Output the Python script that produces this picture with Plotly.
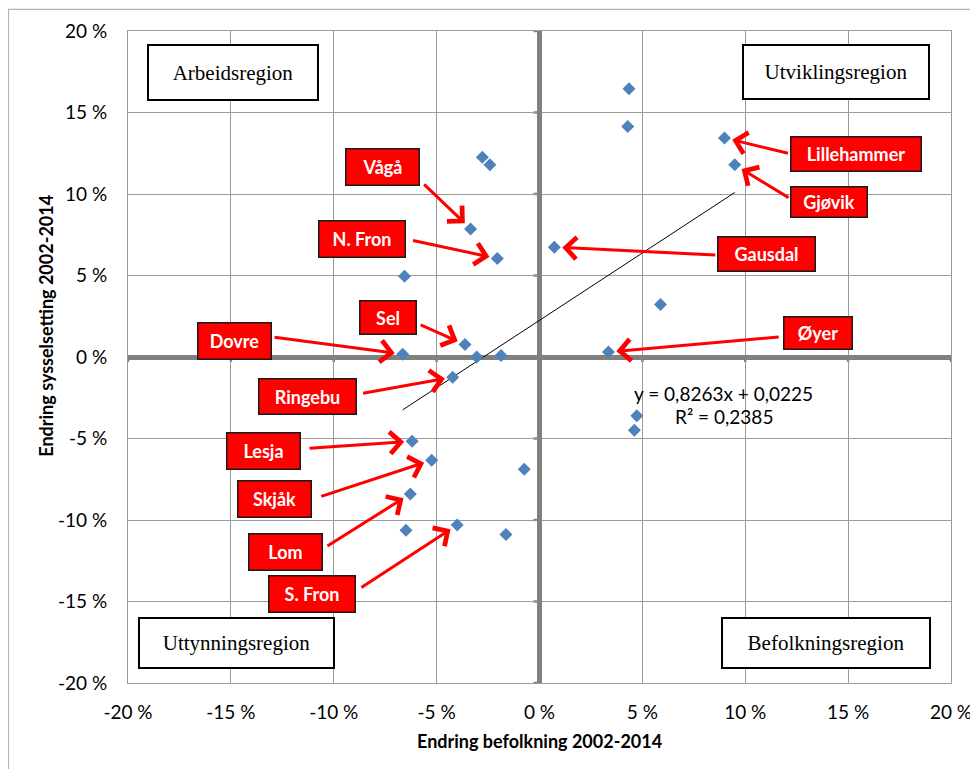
import plotly.graph_objects as go

# ---------------- data (percent) ----------------
kommune = ["Lillehammer", "Gjøvik", "Gausdal", "Øyer", "N. Fron", "Vågå", "Sel",
           "Dovre", "Ringebu", "Lesja", "Skjåk", "Lom", "S. Fron",
           "", "", "", "", "", "", "", "", "", "", "", "", ""]
befolkning = [8.99, 9.49, 0.72, 3.35, -2.05, -3.35, -3.62, -6.65, -4.22, -6.19, -5.24,
              -6.28, -4.00, 4.35, 4.29, 5.88, -1.87, -2.41, -2.78, -6.56, -3.05, -6.49,
              -0.74, -1.63, 4.73, 4.61]
sysselsetting = [13.44, 11.79, 6.74, 0.31, 6.04, 7.86, 0.77, 0.17, -1.24, -5.17, -6.33,
                 -8.40, -10.30, 16.45, 14.14, 3.22, 0.09, 11.79, 12.26, 4.96, 0.00, -10.63,
                 -6.88, -10.89, -3.61, -4.49]

trend_slope = 0.8263
trend_intercept = 0.0225
r_squared = 0.2385

tick_vals = [-20, -15, -10, -5, 0, 5, 10, 15, 20]
tick_text = ["-20 %", "-15 %", "-10 %", "-5 %", "0 %", "5 %", "10 %", "15 %", "20 %"]

region_names = ["Arbeidsregion", "Utviklingsregion", "Uttynningsregion", "Befolkningsregion"]

x_title = "Endring befolkning 2002-2014"
y_title = "Endring sysselsetting 2002-2014"

# ---------------- layout helpers (positions in axis units) ----------------
# label box centre (x, y), box size (w, h px), arrow tail (x, y)
label_layout = {
    "Lillehammer": ((15.37, 12.46), (132, 36), (12.15, 12.48)),
    "Gjøvik": ((14.05, 9.52), (78, 32), (12.18, 9.72)),
    "Gausdal": ((11.03, 6.29), (99, 36), (8.62, 6.25)),
    "Øyer": ((13.53, 1.47), (70, 34), (11.70, 1.23)),
    "N. Fron": ((-8.61, 7.27), (88, 38), (-6.22, 7.17)),
    "Vågå": ((-7.64, 11.66), (75, 38), (-5.68, 10.68)),
    "Sel": ((-7.38, 2.40), (58, 35), (-5.85, 2.01)),
    "Dovre": ((-14.80, 1.01), (75, 38), (-12.95, 1.23)),
    "Ringebu": ((-11.30, -2.42), (99, 37), (-8.65, -2.24)),
    "Lesja": ((-13.41, -5.79), (75, 38), (-11.25, -5.61)),
    "Skjåk": ((-12.90, -8.71), (75, 38), (-10.68, -8.58)),
    "Lom": ((-12.33, -11.96), (75, 38), (-10.38, -11.65)),
    "S. Fron": ((-11.04, -14.54), (88, 38), (-8.73, -14.20)),
}
region_layout = [((-14.91, 17.47), (168, 53)), ((14.43, 17.51), (184, 52)),
                 ((-14.75, -17.55), (193, 48)), ((13.92, -17.55), (206, 48))]

BLUE = "#4f81bd"
RED = "#ff0000"
GRID = "#9a9a9a"
AXIS = "#808080"
SANS = "Lato, 'Open Sans', sans-serif"
SERIF = "'Liberation Serif', 'Times New Roman', serif"

fig = go.Figure()

# trendline
xmin, xmax = min(befolkning), max(befolkning)
fig.add_trace(go.Scatter(
    x=[xmin, xmax],
    y=[trend_slope * xmin + trend_intercept * 100, trend_slope * xmax + trend_intercept * 100],
    mode="lines", line=dict(color="black", width=1), hoverinfo="skip"))

# points
fig.add_trace(go.Scatter(
    x=befolkning, y=sysselsetting, mode="markers", text=kommune,
    marker=dict(symbol="diamond", size=10, color=BLUE, line=dict(width=0))))

annotations = []
for i, name in enumerate(kommune):
    if not name:
        continue
    (cx, cy), (w, h), (tx, ty) = label_layout[name]
    annotations.append(dict(
        x=befolkning[i], y=sysselsetting[i], xref="x", yref="y",
        ax=tx, ay=ty, axref="x", ayref="y", text="", showarrow=True,
        arrowhead=4, arrowsize=1.4, arrowwidth=3, arrowcolor=RED, standoff=8))
    annotations.append(dict(
        x=cx, y=cy, xref="x", yref="y", text="<b>%s</b>" % name, showarrow=False,
        bgcolor=RED, bordercolor="#1a1a1a", borderwidth=1.5, borderpad=0,
        width=w - 3, height=h - 3, align="center", valign="middle",
        font=dict(family=SANS, size=18, color="white")))

for name, ((cx, cy), (w, h)) in zip(region_names, region_layout):
    annotations.append(dict(
        x=cx, y=cy, xref="x", yref="y", text=name, showarrow=False,
        bgcolor="white", bordercolor="black", borderwidth=2, borderpad=0,
        width=w, height=h, align="center", valign="middle",
        font=dict(family=SERIF, size=21, color="black")))

# regression equation
annotations.append(dict(
    x=8.95, y=-2.22, xref="x", yref="y", showarrow=False,
    text="y = %sx + %s" % (str(trend_slope).replace(".", ","),
                           str(trend_intercept).replace(".", ",")),
    font=dict(family=SANS, size=19, color="black")))
annotations.append(dict(
    x=8.95, y=-3.67, xref="x", yref="y", showarrow=False,
    text="R² = %s" % str(r_squared).replace(".", ","),
    font=dict(family=SANS, size=19, color="black")))

# axis titles
annotations.append(dict(
    x=0.5, y=-0.0885, xref="paper", yref="paper", showarrow=False,
    xanchor="center", yanchor="middle", text="<b>%s</b>" % x_title,
    font=dict(family=SANS, size=18, color="black")))
annotations.append(dict(
    x=-0.099, y=0.5473, xref="paper", yref="paper", showarrow=False, textangle=-90,
    xanchor="center", yanchor="middle", text="<b>%s</b>" % y_title,
    font=dict(family=SANS, size=18, color="black")))

# tick stubs on the crossing zero axes + outer border
shapes = []
for v in tick_vals:
    shapes.append(dict(type="line", xref="x", yref="y", xsizemode="pixel", xanchor=0,
                       x0=-6, x1=0, y0=v, y1=v, line=dict(color=AXIS, width=2.5), layer="below"))
    shapes.append(dict(type="line", xref="x", yref="y", ysizemode="pixel", yanchor=0,
                       y0=-5, y1=0, x0=v, x1=v, line=dict(color=AXIS, width=2.5), layer="below"))
shapes.append(dict(type="rect", xref="paper", yref="paper", x0=-0.1452, x1=1.0313,
                   y0=-0.2, y1=1.0333, line=dict(color="#b5b5b5", width=1.2)))

axis_common = dict(
    range=[-20, 20], tickvals=tick_vals, ticktext=tick_text, showgrid=True,
    gridcolor=GRID, gridwidth=1, zeroline=True, zerolinecolor=AXIS, zerolinewidth=4.5,
    showline=True, linecolor=GRID, linewidth=1, mirror=True, ticks="",
    automargin=False, tickfont=dict(family=SANS, size=19, color="black"))

# the page body adds an 8 px offset, so the figure is 970 x 761
fig.update_layout(
    width=970, height=761, showlegend=False,
    paper_bgcolor="white", plot_bgcolor="white",
    margin=dict(l=120, r=27, t=23, b=86),
    xaxis=dict(axis_common, ticklabelstandoff=12),
    yaxis=dict(axis_common, ticklabelstandoff=16),
    annotations=annotations, shapes=shapes)

fig.write_html("out.html")
